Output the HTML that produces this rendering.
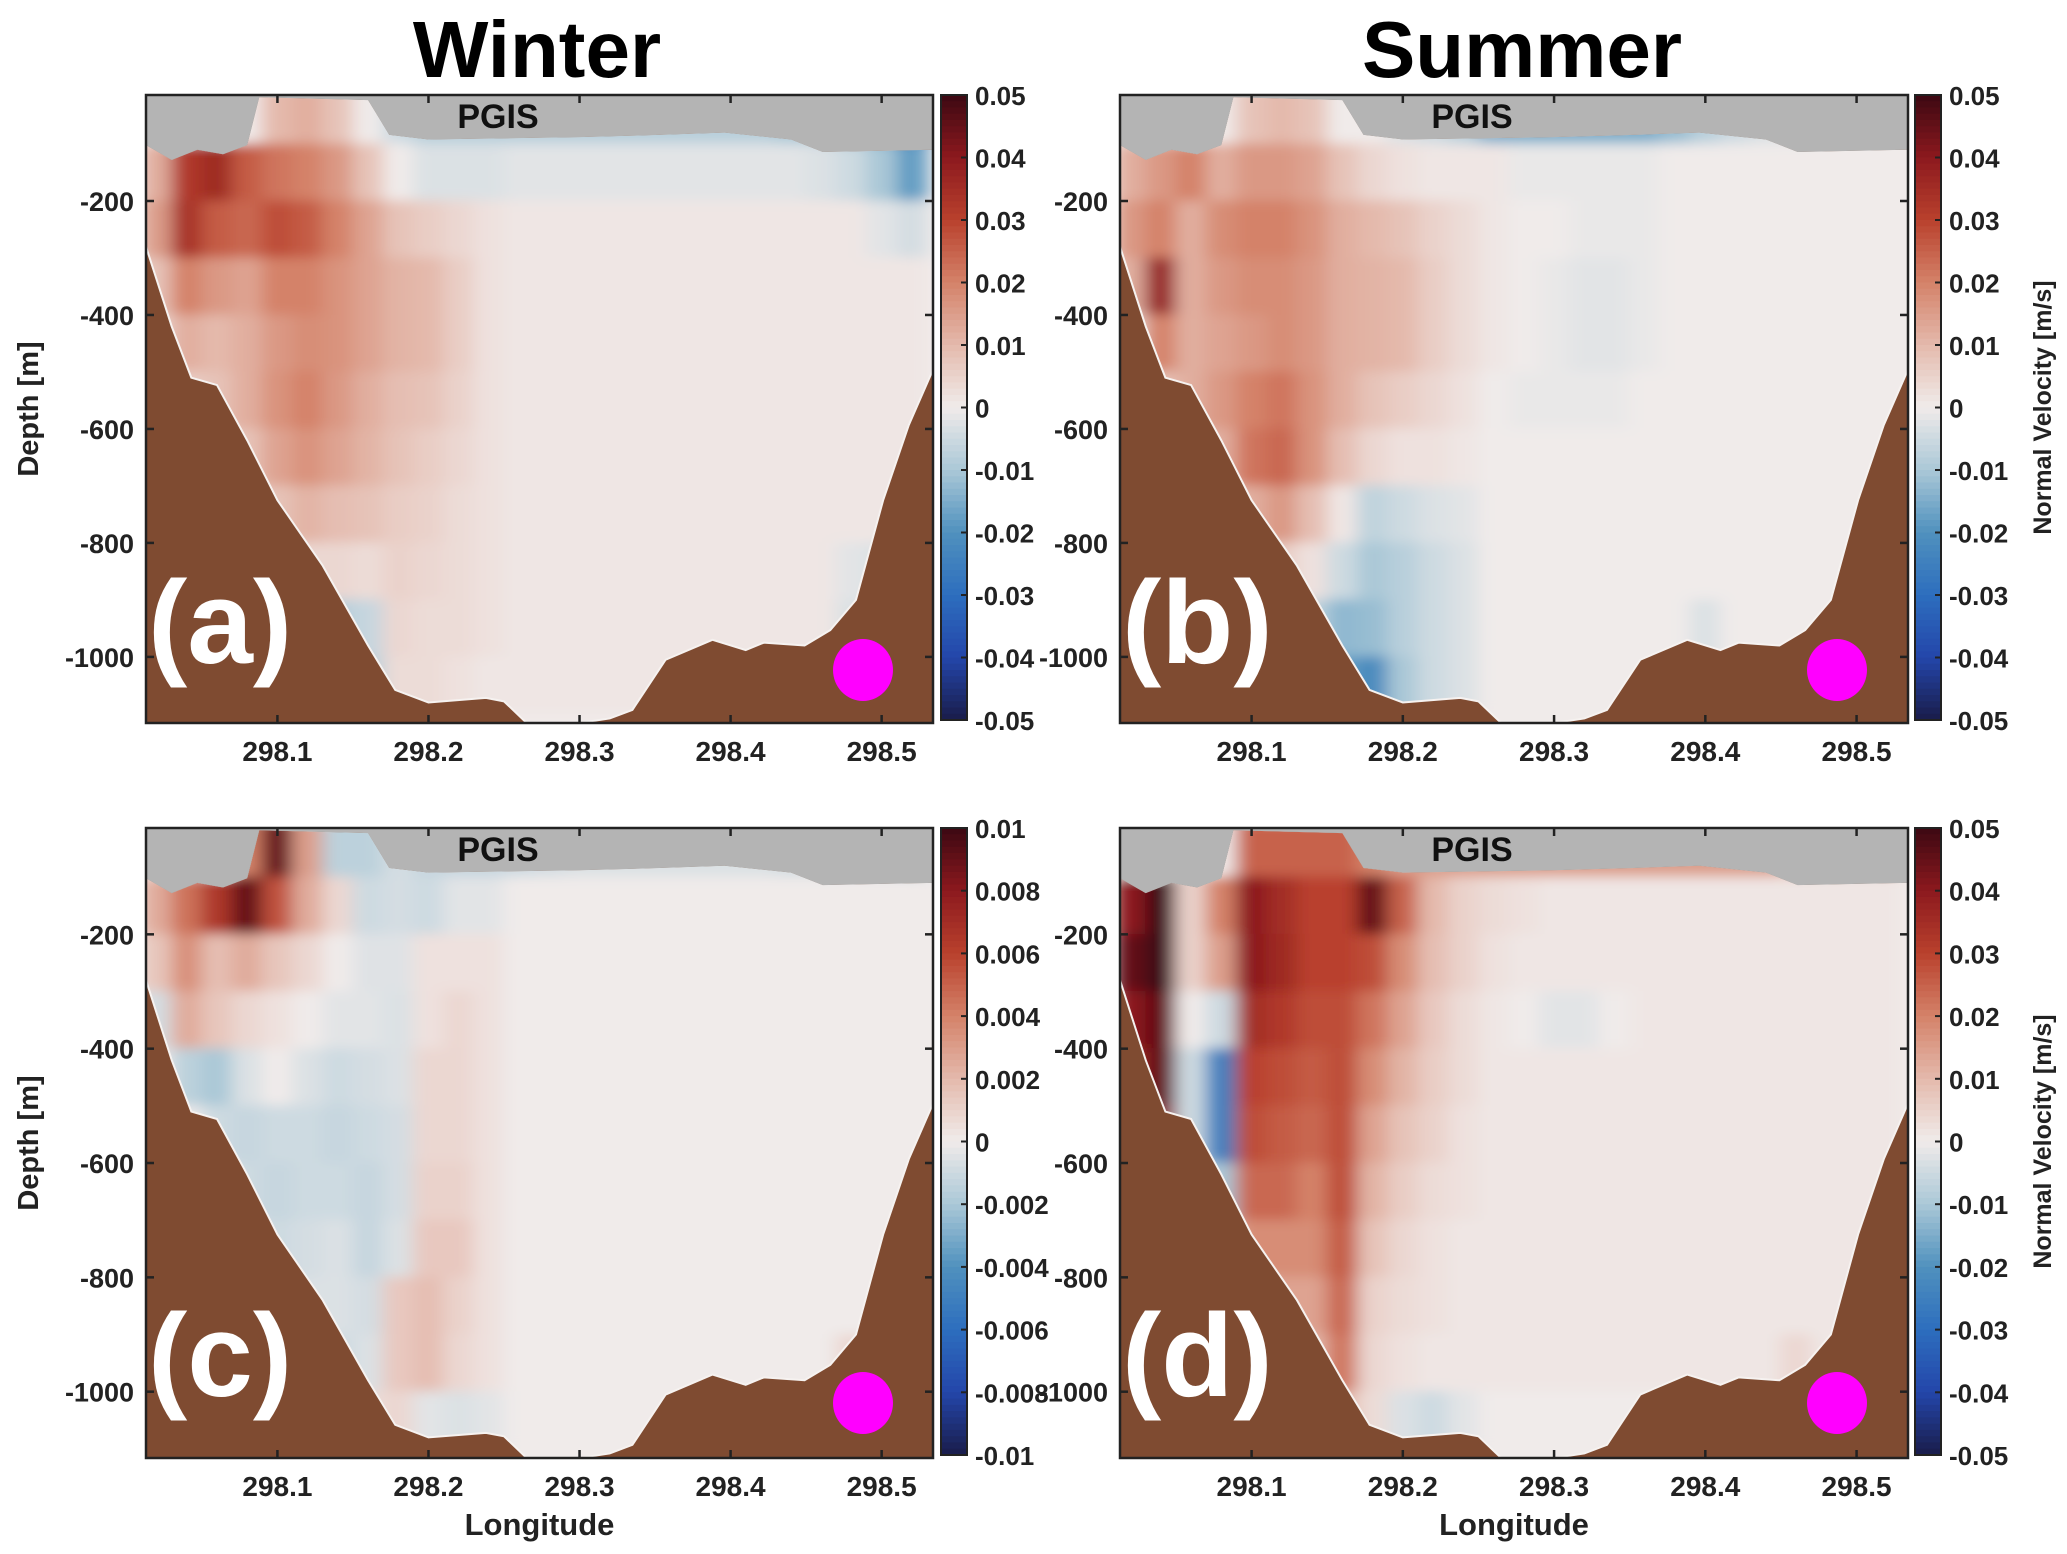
<!DOCTYPE html>
<html><head><meta charset="utf-8">
<style>
html,body{margin:0;padding:0;background:#fff;}
svg{display:block;}
text{font-family:"Liberation Sans",sans-serif;font-weight:bold;}
</style></head>
<body>
<svg id="fig" width="2067" height="1554" viewBox="0 0 2067 1554" xmlns="http://www.w3.org/2000/svg">
<defs>
<filter id="blur" x="-5%" y="-5%" width="110%" height="110%"><feGaussianBlur stdDeviation="9 6"/></filter>
</defs>
<text x="537" y="77" font-size="80" text-anchor="middle" fill="#000">Winter</text>
<text x="1522" y="77" font-size="80" text-anchor="middle" fill="#000">Summer</text>
</svg>
<script>
// ---- data ----
const lonCols = [298.02,298.04,298.06,298.08,298.10,298.12,298.14,298.16,298.18,298.20,298.22,298.24,298.26,298.28,298.30,298.32,298.34,298.36,298.38,298.40,298.42,298.44,298.46,298.48,298.50,298.52];
const depthRows = [50,150,250,350,450,550,650,750,850,950,1050];
const xTicks = [298.1,298.2,298.3,298.4,298.5];
const yTicks = [200,400,600,800,1000];
const yTickLabels = ["-200","-400","-600","-800","-1000"];
const bathLon = [298.013,298.03,298.043,298.06,298.08,298.1,298.13,298.16,298.178,298.2,298.238,298.25,298.265,298.3,298.32,298.335,298.357,298.388,298.41,298.422,298.449,298.466,298.483,298.501,298.518,298.534];
const bathDepth = [280,420,510,523,620,725,840,980,1058,1080,1072,1078,1116,1116,1108,1093,1005,970,988,975,980,953,900,725,593,496];
const iceLon = [298.013,298.03,298.047,298.064,298.08,298.088,298.16,298.174,298.2,298.3,298.353,298.396,298.44,298.461,298.534];
const iceDepth = [102,128,110,118,102,18,23,84,92,88,84,80,92,114,110];
const cbarTicksA = ["0.05","0.04","0.03","0.02","0.01","0","-0.01","-0.02","-0.03","-0.04","-0.05"];
const cbarTicksC = ["0.01","0.008","0.006","0.004","0.002","0","-0.002","-0.004","-0.006","-0.008","-0.01"];
// velocity grids (a,b,d in 0.001 m/s, clim 50; c in 0.0001 m/s, clim 100)
const velA = [
[0,0,0,0,10,12,8,0,-5,-8,-8,-8,-8,-8,-8,-8,-8,-8,-8,-8,-8,-10,-10,-15,-20,-30],
[12,32,36,26,22,20,16,8,0,-3,-3,-3,-2,-2,-2,-2,-2,-2,-2,-2,-2,-2,-3,-5,-10,-18],
[15,34,26,24,28,26,20,14,8,6,4,2,1,1,1,1,1,1,1,1,1,1,1,1,-2,-4],
[8,20,16,14,20,20,17,14,11,10,6,2,1,1,1,1,1,1,1,1,1,1,1,1,1,1],
[4,12,10,12,16,18,17,14,11,10,6,2,1,1,1,1,1,1,1,1,1,1,1,1,1,1],
[0,6,8,12,17,20,16,12,9,8,5,2,1,1,1,1,1,1,1,1,1,1,1,1,1,1],
[0,0,4,8,14,17,14,11,8,6,4,2,1,1,1,1,1,1,1,1,1,1,1,1,1,1],
[0,0,0,4,8,11,9,8,6,5,3,2,1,1,1,1,1,1,1,1,1,1,1,1,1,1],
[0,0,0,0,2,4,4,3,5,4,3,2,1,1,1,1,1,1,1,1,1,1,1,-2,-3,0],
[0,0,0,0,0,-4,-8,-6,4,3,3,2,1,1,1,1,1,1,1,1,1,1,1,-3,0,0],
[0,0,0,0,0,0,0,-8,3,3,2,1,1,1,1,1,1,1,1,1,1,1,1,0,0,0]];
const velB = [
[0,0,0,0,8,10,8,0,0,-3,-5,-8,-15,-15,-15,-15,-15,-15,-12,-8,-5,-3,-2,0,0,0],
[12,16,20,12,16,16,14,8,4,2,1,1,1,-1,-1,-1,-1,-1,0,0,0,0,0,0,0,0],
[16,20,12,18,20,20,17,12,10,8,5,3,1,0,0,-1,-1,-1,0,0,0,0,0,0,0,0],
[12,38,12,16,18,18,16,12,11,10,6,3,1,0,-1,-2,-2,-1,0,0,0,0,0,0,0,0],
[4,20,12,14,16,18,16,12,11,10,6,3,1,0,-1,-2,-2,-1,0,0,0,0,0,0,0,0],
[0,8,12,16,20,22,17,12,8,6,4,2,0,-1,-1,-1,-1,0,0,0,0,0,0,0,0,0],
[0,0,8,12,22,24,17,9,4,2,2,1,0,0,0,0,0,0,0,0,0,0,0,0,0,0],
[0,0,4,6,12,16,9,1,-7,-5,-3,-2,0,0,0,0,0,0,0,0,0,0,0,0,0,0],
[0,0,0,0,4,6,2,-5,-10,-8,-5,-3,0,0,0,0,0,0,0,0,0,0,0,0,0,0],
[0,0,0,0,0,0,-7,-13,-12,-8,-5,-3,0,0,0,0,0,0,0,-3,0,0,0,0,0,0],
[0,0,0,0,0,0,0,-18,-22,-10,-5,-3,0,0,0,0,0,0,0,0,0,0,0,0,0,0]];
const velC = [
[0,0,0,40,90,30,-15,-15,-8,-12,-12,-12,-10,-8,-6,-6,-6,-6,-6,-6,-6,-8,-8,-10,-15,-20],
[25,45,65,90,55,25,8,-10,-8,-10,-4,-4,0,0,0,0,0,0,0,0,0,0,0,0,0,0],
[15,35,18,25,15,8,0,-5,-5,4,4,4,0,0,0,0,0,0,0,0,0,0,0,0,0,0],
[-8,25,15,8,4,0,-4,-4,-6,4,8,4,0,0,0,0,0,0,0,0,0,0,0,0,0,0],
[0,-15,-20,-6,0,-6,-10,-8,-6,8,8,4,0,0,0,0,0,0,0,0,0,0,0,0,0,0],
[0,0,-10,-12,-10,-10,-12,-10,-8,8,8,4,0,0,0,0,0,0,0,0,0,0,0,0,0,0],
[0,0,0,-10,-12,-10,-10,-12,-8,10,10,4,0,0,0,0,0,0,0,0,0,0,0,0,0,0],
[0,0,0,-5,-10,-8,-6,-12,-6,14,14,4,0,0,0,0,0,0,0,0,0,0,0,0,0,0],
[0,0,0,0,-8,-6,-6,-8,14,18,10,4,0,0,0,0,0,0,0,0,0,0,0,0,0,0],
[0,0,0,0,0,-6,-10,-6,14,18,8,4,0,0,0,0,0,0,0,0,0,0,0,8,0,0],
[0,0,0,0,0,0,0,6,8,-4,-6,-4,0,0,0,0,0,0,0,0,0,0,0,0,0,0]];
const velD = [
[0,0,0,0,25,25,25,25,20,15,15,15,15,15,15,15,15,15,15,15,15,15,10,5,5,5],
[40,50,5,20,40,35,30,30,45,25,10,5,3,2,1,1,1,1,1,1,1,1,1,1,1,1],
[45,50,5,15,40,36,30,30,28,18,9,5,2,1,1,1,1,1,1,1,1,1,1,1,1,1],
[40,45,0,-5,35,32,28,28,22,14,7,3,1,0,-2,-2,0,1,1,1,1,1,1,1,1,1],
[35,45,-5,-25,30,28,26,28,18,11,6,3,1,1,1,1,1,1,1,1,1,1,1,1,1,1],
[30,40,-5,-25,28,26,24,28,14,8,5,2,1,1,1,1,1,1,1,1,1,1,1,1,1,1],
[0,0,0,-10,24,24,20,28,11,6,3,2,1,1,1,1,1,1,1,1,1,1,1,1,1,1],
[0,0,0,5,18,18,18,26,8,4,2,1,1,1,1,1,1,1,1,1,1,1,1,1,1,1],
[0,0,0,0,-5,14,14,24,5,3,2,1,1,1,1,1,1,1,1,1,1,1,1,1,1,1],
[0,0,0,0,0,-8,10,22,4,2,1,1,1,1,1,1,1,1,1,1,1,1,4,1,1,1],
[0,0,0,0,0,0,-5,10,3,-3,-5,-2,0,0,0,0,0,0,0,0,0,0,0,0,0,0]];

const NS = "http://www.w3.org/2000/svg";
const svg = document.getElementById('fig');
function el(tag, attrs, parent){const e=document.createElementNS(NS,tag);for(const k in attrs)e.setAttribute(k,attrs[k]);(parent||svg).appendChild(e);return e;}

const cmapStops = [[-1,[26,28,74]],[-0.8,[35,70,170]],[-0.6,[45,110,190]],[-0.4,[80,145,190]],[-0.2,[170,200,215]],[0,[240,235,234]],[0.2,[228,185,172]],[0.4,[212,130,105]],[0.6,[185,65,45]],[0.8,[140,25,30]],[1,[60,8,18]]];
function cmap(t){t=Math.max(-1,Math.min(1,t));for(let i=0;i<cmapStops.length-1;i++){const a=cmapStops[i],b=cmapStops[i+1];if(t<=b[0]){const f=(t-a[0])/(b[0]-a[0]);const c=a[1].map((v,j)=>Math.round(v+(b[1][j]-v)*f));return `rgb(${c[0]},${c[1]},${c[2]})`;}}return 'rgb(60,8,18)';}

const LON0=298.013, LON1=298.534, D0=14, D1=1116;

function panel(id, x0, y0, x1, y1, vel, clim, label, cbx, cbTicks, showXLabel, showCbTitle, showYTitle){
  const g = el('g',{});
  
  
  const X = lon => x0 + (lon-LON0)/(LON1-LON0)*(x1-x0);
  const Y = d => y0 + (d-D0)/(D1-D0)*(y1-y0);
  const bg = el('rect',{x:x0,y:y0,width:x1-x0,height:y1-y0,fill:'#7f4b31'},g);
  
  
  let pts = [];
  iceLon.forEach((l,i)=>pts.push(X(l)+','+Y(iceDepth[i])));
  for(let i=bathLon.length-1;i>=0;i--) pts.push(X(bathLon[i])+','+Y(bathDepth[i]));
  const cp = el('clipPath',{id:'clip-'+id},g);
  el('polygon',{points:pts.join(' ')},cp);
  const ocean = el('polygon',{points:pts.join(' '),fill:'#f0ebea'},g);
  
  
  const hg = el('g',{'clip-path':'url(#clip-'+id+')'},g);
  const hm = el('g',{filter:'url(#blur)'},hg);
  
  
  const dl=0.01, dd=50;
  vel.forEach((row,r)=>row.forEach((v,c)=>{
    const lx=X(lonCols[c]-dl), rx=X(lonCols[c]+dl);
    const ty=Y(depthRows[r]-dd), by=Y(depthRows[r]+dd);
    const rc = el('rect',{x:lx-0.5,y:ty-0.5,width:rx-lx+1,height:by-ty+1,fill:cmap(v/clim)},hm);
    
    
  }));
  let bp=[];bathLon.forEach((l,i)=>bp.push(X(l)+','+Y(bathDepth[i])));
  el('polyline',{points:bp.join(' '),fill:'none',stroke:'#f6f2f0',"stroke-width":2},g);
  let ip=[x0+','+y0];
  iceLon.forEach((l,i)=>ip.push(X(l)+','+Y(iceDepth[i])));
  ip.push(x1+','+y0);
  const ice = el('polygon',{points:ip.join(' '),fill:'#b4b4b4'},g);
  
  
  const pg = el('text',{x:x0+352,y:y0+33,'font-size':34,'text-anchor':'middle',fill:'#111','font-weight':'normal'},g);
  pg.textContent='PGIS';
  
  
  const lab = el('text',{x:x0+2,y:y0+568,'font-size':118,fill:'#fff'},g);
  lab.textContent=label;
  
  
  const dot = el('ellipse',{cx:x0+717,cy:y0+575,rx:30,ry:31,fill:'#ff00ff'},g);
  
  
  el('rect',{x:x0,y:y0,width:x1-x0,height:y1-y0,fill:'none',stroke:'#222','stroke-width':2.5},g);
  xTicks.forEach(t=>{
    const x=X(t);
    el('line',{x1:x,x2:x,y1:y1,y2:y1-8,stroke:'#222','stroke-width':2.5},g);
    el('line',{x1:x,x2:x,y1:y0,y2:y0+8,stroke:'#222','stroke-width':2.5},g);
    const tx=el('text',{x:x,y:y1+38,'font-size':28,'text-anchor':'middle',fill:'#222'},g);
    tx.textContent=t.toFixed(1);
    
    
  });
  yTicks.forEach((t,i)=>{
    const y=Y(t);
    el('line',{x1:x0,x2:x0+8,y1:y,y2:y,stroke:'#222','stroke-width':2.5},g);
    el('line',{x1:x1,x2:x1-8,y1:y,y2:y,stroke:'#222','stroke-width':2.5},g);
    const tx=el('text',{x:x0-12,y:y+10,'font-size':27,'text-anchor':'end',fill:'#222'},g);
    tx.textContent=yTickLabels[i];
    
    
  });
  if(showYTitle){
    const yl=el('text',{x:0,y:0,'font-size':29,'text-anchor':'middle',fill:'#222',transform:`translate(${x0-108},${(y0+y1)/2}) rotate(-90)`},g);
    yl.textContent='Depth [m]';
    
    
  }
  if(showXLabel){
    const xl=el('text',{x:(x0+x1)/2,y:y1+77,'font-size':31,'text-anchor':'middle',fill:'#222'},g);
    xl.textContent='Longitude';
    
    
  }
  const cbT=y0, cbB=y1-3, cbW=26, n=100;
  const cb = el('g',{},g);
  
  
  for(let i=0;i<n;i++){
    const t=1-2*(i+0.5)/n;
    el('rect',{x:cbx,y:cbT+(cbB-cbT)*i/n,width:cbW,height:(cbB-cbT)/n+1,fill:cmap(t)},cb);
  }
  el('rect',{x:cbx,y:cbT,width:cbW,height:cbB-cbT,fill:'none',stroke:'#222','stroke-width':2},cb);
  cbTicks.forEach((s,i)=>{
    const y=cbT+(cbB-cbT)*i/(cbTicks.length-1);
    el('line',{x1:cbx+cbW-6,x2:cbx+cbW,y1:y,y2:y,stroke:'#222','stroke-width':2},cb);
    const tx=el('text',{x:cbx+cbW+8,y:y+10,'font-size':26,fill:'#222'},cb);
    tx.textContent=s;
    
    
  });
  if(showCbTitle){
    const ct=el('text',{x:0,y:0,'font-size':25,'text-anchor':'middle',fill:'#222',transform:`translate(${cbx+cbW+110},${(cbT+cbB)/2}) rotate(-90)`},cb);
    ct.textContent='Normal Velocity [m/s]';
    
    
  }
}
panel('a',146,95,933,723,velA,50,'(a)',941,cbarTicksA,false,false,true);
panel('b',1120,95,1908,723,velB,50,'(b)',1915,cbarTicksA,false,true,false);
panel('c',146,828,933,1458,velC,100,'(c)',941,cbarTicksC,true,false,true);
panel('d',1120,828,1908,1458,velD,50,'(d)',1915,cbarTicksA,true,true,false);
</script>
</body></html>
